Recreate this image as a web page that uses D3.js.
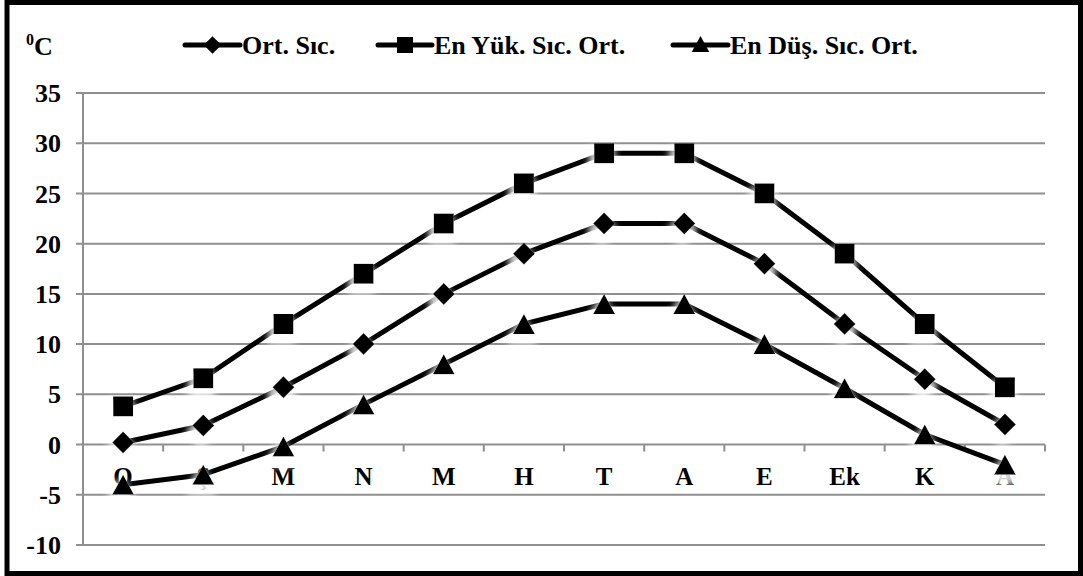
<!DOCTYPE html>
<html><head><meta charset="utf-8">
<script src="https://cdn.jsdelivr.net/npm/d3@7"></script>
<style>body{margin:0;background:#fff}svg{display:block}</style>
</head><body>
<script>
const months = ["O","Ş","M","N","M","H","T","A","E","Ek","K","A"];
const ortSic = [0.2,1.9,5.7,10,15,19,22,22,18,12,6.5,2];
const enYuk  = [3.8,6.6,12,17,22,26,29,29,25,19,12,5.7];
const enDus  = [-4,-3,-0.2,4,8,12,14,14,10,5.6,1,-2];
const yTicks = [35,30,25,20,15,10,5,0,-5,-10];
const seriesNames = ["Ort. Sıc.","En Yük. Sıc. Ort.","En Düş. Sıc. Ort."];

const W=1083,H=576;
const svg=d3.select("body").append("svg").attr("width",W).attr("height",H);
const FONT="'Liberation Serif','Times New Roman',serif";

function txt(parent,x,y,s,size,anchor,dy){
  const t=parent.append("text").attr("x",x).attr("y",y).attr("text-anchor",anchor||"start")
    .attr("font-family",FONT).attr("font-weight","bold").attr("font-size",size).text(s);
  if(dy) t.attr("dy",dy);
  return t;
}

const defs=svg.append("defs");
const f=defs.append("filter").attr("id","glow").attr("x","-150%").attr("y","-150%").attr("width","400%").attr("height","400%");
f.append("feMorphology").attr("in","SourceAlpha").attr("operator","dilate").attr("radius",3).attr("result","d");
f.append("feGaussianBlur").attr("in","d").attr("stdDeviation",3.5).attr("result","b");
f.append("feOffset").attr("in","b").attr("dx",-2).attr("dy",7).attr("result","o");
f.append("feFlood").attr("flood-color","#fff").attr("flood-opacity",0.85).attr("result","w");
f.append("feComposite").attr("in","w").attr("in2","o").attr("operator","in").attr("result","s");
const m=f.append("feMerge");
m.append("feMergeNode").attr("in","s");
m.append("feMergeNode").attr("in","SourceGraphic");

const x0=83,x1=1045;
const x=d3.scaleBand().domain(d3.range(months.length)).range([x0,x1]);
const cx=i=>x(i)+x.bandwidth()/2;
const y=d3.scaleLinear().domain([-10,35]).range([545,93]);

// gridlines
svg.append("g").selectAll("line").data(yTicks).join("line")
  .attr("x1",76).attr("x2",x1).attr("y1",d=>y(d)).attr("y2",d=>y(d))
  .attr("stroke","#8f8f8f").attr("stroke-width",2);
svg.append("line").attr("x1",x0).attr("x2",x0).attr("y1",y(35)).attr("y2",y(-10)).attr("stroke","#8f8f8f").attr("stroke-width",2);
const bounds=d3.range(months.length+1).map(i=>i<months.length?x(i):x1);
svg.append("g").selectAll("line").data(bounds).join("line")
  .attr("x1",d=>d).attr("x2",d=>d).attr("y1",y(0)).attr("y2",y(0)+7)
  .attr("stroke","#8f8f8f").attr("stroke-width",2);

// y labels
const gy=svg.append("g");
yTicks.forEach(d=>txt(gy,61,y(d),d,26,"end","0.35em"));
// x labels
const gx=svg.append("g");
months.forEach((d,i)=>txt(gx,cx(i),485,d,25,"middle"));

// unit
const u=svg.append("text").attr("x",26).attr("y",55).attr("font-family",FONT).attr("font-weight","bold").attr("font-size",26);
u.append("tspan").attr("font-size",16).attr("dy",-10).text("0");
u.append("tspan").attr("dy",10).text("C");

// marker shapes
const shapes=[
  "M0,-11L11,0L0,11L-11,0Z",
  "M-10,-10H10V10H-10Z",
  "M0,-10L11,10H-11Z"
];
const data=[ortSic,enYuk,enDus];
const line=d3.line().x((d,i)=>cx(i)).y(d=>y(d));
data.forEach((vals,k)=>{
  const g=svg.append("g");
  g.append("path").attr("d",line(vals)).attr("fill","none").attr("stroke","#000").attr("stroke-width",5).attr("stroke-linejoin","round");
  g.selectAll("path.m").data(vals).join("path").attr("class","m")
    .attr("filter","url(#glow)")
    .attr("transform",(d,i)=>`translate(${cx(i)},${y(d)})`)
    .attr("d",shapes[k]).attr("fill","#000");
});

// legend
const legLine=[[185,240],[378,432],[673,728]];
seriesNames.forEach((n,k)=>{
  const [a,b]=legLine[k];
  const g=svg.append("g").attr("transform",`translate(0,45)`);
  g.append("line").attr("x1",a).attr("x2",b).attr("y1",0).attr("y2",0).attr("stroke","#000").attr("stroke-width",5).attr("stroke-linecap","round");
  g.append("path").attr("transform",`translate(${(a+b)/2},${k===2?-1:0}) scale(0.8)`).attr("d",shapes[k]).attr("fill","#000");
  txt(g,b+2,0,n,26,"start","0.35em");
});

// border
svg.append("rect").attr("x",7).attr("y",2.5).attr("width",1073.5).attr("height",571).attr("fill","none").attr("stroke","#000").attr("stroke-width",5);
</script>
</body></html>
